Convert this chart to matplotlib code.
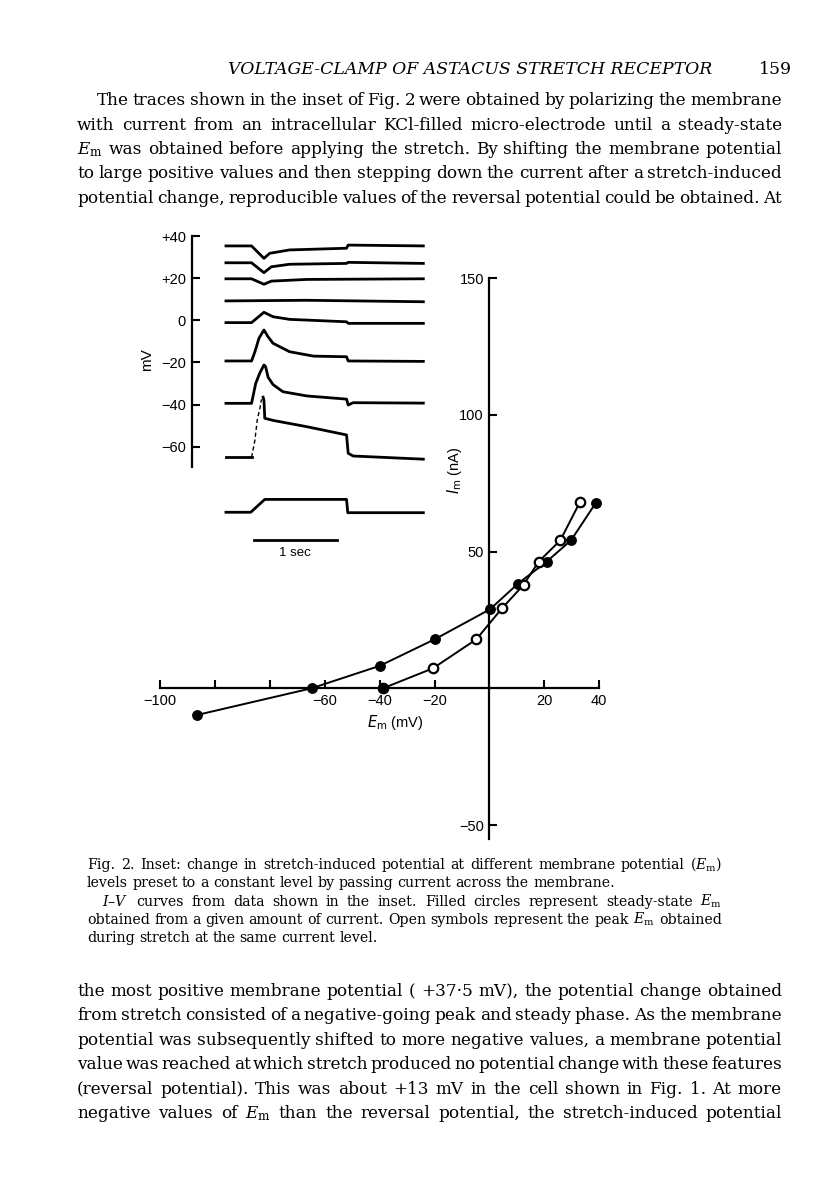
import matplotlib
matplotlib.use('Agg')
import matplotlib.pyplot as plt

plt.rcParams['font.family'] = ['Liberation Sans', 'DejaVu Sans']

# I-V curve data (Em in mV, Im in nA)
filled_em = [-106.7, -64.8, -40.0, -19.8, 0.2, 10.3, 20.8, 29.7, 38.8]
filled_im = [-9.8, 0.0, 8.2, 18.0, 28.9, 38.2, 46.3, 54.1, 67.9]
open_em = [-38.8, -20.6, -4.8, 4.6, 12.4, 17.9, 25.8, 33.0]
open_im = [0.0, 7.3, 17.9, 29.3, 37.8, 46.3, 54.1, 68.2]

x_ticks = [-120, -100, -80, -60, -40, -20, 20, 40]
x_tick_labels = ['\u2212100', '', '', '\u221260', '\u221240', '\u221220', '20', '40']
y_ticks = [-50, 50, 100, 150]
y_tick_labels = ['\u221250', '50', '100', '150']

# inset traces: (time s, potential mV)
trace_p35 = [(0, 35.3), (0.31, 35.3), (0.46, 29.4), (0.53, 31.8), (0.77, 33.4),
             (1.46, 34.2), (1.48, 35.7), (2.39, 35.3)]
trace_p27 = [(0, 27.3), (0.31, 27.3), (0.46, 22.6), (0.55, 25.4), (0.77, 26.6),
             (1.46, 27.0), (1.48, 27.5), (2.39, 27.0)]
trace_p20 = [(0, 19.7), (0.31, 19.7), (0.46, 17.1), (0.55, 18.6), (0.98, 19.4),
             (2.39, 19.7)]
trace_p9 = [(0, 9.2), (0.98, 9.5), (2.39, 8.8)]
trace_m1 = [(0, -1.1), (0.31, -1.1), (0.46, 3.8), (0.57, 1.7), (0.77, 0.45),
            (1.46, -0.7), (1.48, -1.45), (2.39, -1.45)]
trace_m19 = [(0, -19.3), (0.31, -19.3), (0.35, -15.0), (0.40, -8.5), (0.46, -4.6),
             (0.51, -7.8), (0.57, -10.9), (0.77, -14.9), (1.06, -17.0),
             (1.46, -17.3), (1.48, -19.3), (2.39, -19.5)]
trace_m39 = [(0, -39.4), (0.31, -39.4), (0.36, -30.0), (0.41, -25.0), (0.46, -21.2),
             (0.48, -22.0), (0.51, -27.0), (0.57, -30.5), (0.69, -33.9),
             (0.98, -35.9), (1.46, -37.4), (1.48, -40.2), (1.54, -39.1), (2.39, -39.3)]
trace_m65 = [(0, -65.0), (0.31, -65.0)]
trace_m65_spike = [(0.31, -65.0), (0.35, -57.0), (0.38, -47.0), (0.41, -42.0), (0.43, -37.5)]
trace_m65_rest = [(0.45, -36.5), (0.46, -38.0), (0.47, -46.5), (0.57, -47.5),
                  (0.98, -50.5), (1.46, -54.4), (1.48, -63.1), (1.54, -64.4), (2.39, -65.9)]
stretch = [(0, -91.1), (0.30, -91.1), (0.47, -85.0), (1.46, -85.0), (1.475, -91.3),
           (2.39, -91.3)]
inset_ticks = [40, 20, 0, -20, -40, -60]
inset_labels = ['+40', '+20', '0', '\u221220', '\u221240', '\u221260']

header = 'VOLTAGE-CLAMP OF ASTACUS STRETCH RECEPTOR'
page_no = '159'
top_lines = [
    'The traces shown in the inset of Fig. 2 were obtained by polarizing the membrane',
    'with current from an intracellular KCl-filled micro-electrode until a steady-state',
    '$E_\\mathrm{m}$ was obtained before applying the stretch. By shifting the membrane potential',
    'to large positive values and then stepping down the current after a stretch-induced',
    'potential change, reproducible values of the reversal potential could be obtained. At',
]
caption_lines = [
    'Fig. 2. Inset: change in stretch-induced potential at different membrane potential ($E_\\mathrm{m}$)',
    'levels preset to a constant level by passing current across the membrane.',
    '$I$\u2013$V$ curves from data shown in the inset. Filled circles represent steady-state $E_\\mathrm{m}$',
    'obtained from a given amount of current. Open symbols represent the peak $E_\\mathrm{m}$ obtained',
    'during stretch at the same current level.',
]
bottom_lines = [
    'the most positive membrane potential ( +37\u00b75 mV), the potential change obtained',
    'from stretch consisted of a negative-going peak and steady phase. As the membrane',
    'potential was subsequently shifted to more negative values, a membrane potential',
    'value was reached at which stretch produced no potential change with these features',
    '(reversal potential). This was about +13 mV in the cell shown in Fig. 1. At more',
    'negative values of $E_\\mathrm{m}$ than the reversal potential, the stretch-induced potential',
]

W, H = 816, 1191
fig = plt.figure(figsize=(8.16, 11.91), dpi=100)
renderer = fig.canvas.get_renderer()


def fx(px):
    return px / W


def fy(py):
    return 1 - py / H


def put_line(line, x0, x1, y, size, justify=True):
    words = line.split(' ')
    texts = [fig.text(0, fy(y), w, fontsize=size, family='DejaVu Serif',
                      math_fontfamily='dejavuserif', va='baseline', ha='left')
             for w in words]
    widths = [t.get_window_extent(renderer).width for t in texts]
    if justify and len(words) > 1:
        gap = (x1 - x0 - sum(widths)) / (len(words) - 1)
    else:
        gap = size * 0.3 * 100 / 72
    x = x0
    for t, w in zip(texts, widths):
        t.set_x(fx(x))
        x += w + gap


# page text
fig.text(fx(470), fy(74), header, fontsize=12.4, style='italic', family='DejaVu Serif',
         ha='center', va='baseline')
fig.text(fx(792), fy(74), page_no, fontsize=12.4, family='DejaVu Serif',
         ha='right', va='baseline')
for i, line in enumerate(top_lines):
    put_line(line, 97 if i == 0 else 77, 782, 105 + i * 24.5, 12.2)
for i, line in enumerate(caption_lines):
    put_line(line, 102 if i == 2 else 87, 722, [869, 887, 906, 924, 942][i], 10.2,
             justify=i not in (1, 4))
for i, line in enumerate(bottom_lines):
    put_line(line, 77, 782, 996 + i * 24.4, 12.2)

# main I-V axes
ax = fig.add_axes([0.1928, 0.2981, 0.545, 0.4730])
ax.patch.set_visible(False)
ax.set_xlim(-121, 41)
ax.set_ylim(-54, 152)
ax.plot(filled_em, filled_im, '-', color='black', lw=1.4)
ax.plot(filled_em, filled_im, 'o', color='black', ms=6.8)
ax.plot(open_em, open_im, '-', color='black', lw=1.4)
ax.plot(open_em, open_im, 'o', mfc='white', mec='black', mew=1.6, ms=6.8)
ax.plot(open_em[:1], open_im[:1], 'o', color='black', ms=6.8)
for s in ['top', 'right']:
    ax.spines[s].set_visible(False)
ax.spines['left'].set_position(('data', 0))
ax.spines['bottom'].set_position(('data', 0))
ax.spines['left'].set_bounds(-55, 150)
ax.spines['bottom'].set_bounds(-120, 40)
for s in ['left', 'bottom']:
    ax.spines[s].set_linewidth(1.6)
ax.set_xticks(x_ticks)
ax.set_xticklabels(x_tick_labels)
ax.set_yticks(y_ticks)
ax.set_yticklabels(y_tick_labels)
ax.tick_params(direction='in', length=6, width=1.5, labelsize=10.5, pad=4)
fig.text(fx(455), fy(470), '$I_\\mathrm{m}$ (nA)', rotation=90, ha='center', va='center',
         fontsize=10.5)
fig.text(fx(395), fy(723), '$E_\\mathrm{m}$ (mV)', ha='center', va='center', fontsize=10.5)

# inset traces
ax2 = fig.add_axes([0.2349, 0.5276, 0.2920, 0.2760])
ax2.patch.set_visible(False)
ax2.set_xlim(-0.415, 2.47)
ax2.set_ylim(-115, 41)
for tr in [trace_p35, trace_p27, trace_p20, trace_p9, trace_m1, trace_m19, trace_m39,
           trace_m65, trace_m65_rest, stretch]:
    ax2.plot([p[0] for p in tr], [p[1] for p in tr], color='black', lw=2.0,
             solid_joinstyle='round')
ax2.plot([p[0] for p in trace_m65_spike], [p[1] for p in trace_m65_spike], color='black',
         lw=1.0, ls=(0, (3, 2)))
ax2.plot([0.34, 1.34], [-104.3, -104.3], color='black', lw=2.0)
ax2.text(0.84, -110.4, '1 sec', ha='center', va='center', fontsize=9.5)
for s in ['top', 'right', 'bottom']:
    ax2.spines[s].set_visible(False)
ax2.spines['left'].set_bounds(-69.6, 40)
ax2.spines['left'].set_linewidth(1.6)
ax2.set_xticks([])
ax2.set_yticks(inset_ticks)
ax2.set_yticklabels(inset_labels)
ax2.tick_params(direction='in', length=6, width=1.5, labelsize=10.5, pad=4)
fig.text(fx(147), fy(360), 'mV', rotation=90, ha='center', va='center', fontsize=11)

fig.savefig('out.png', dpi=100)
